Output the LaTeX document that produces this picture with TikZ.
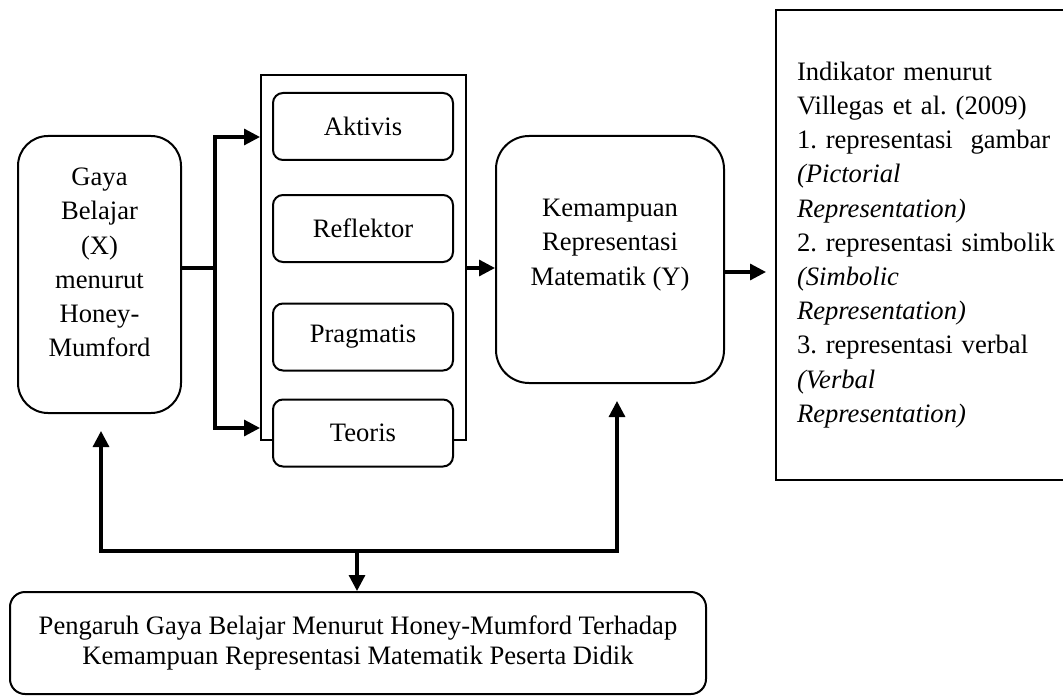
\documentclass[tikz,border=0pt]{standalone}
\usepackage{fontspec}
\setmainfont{Liberation Serif}
\usetikzlibrary{arrows.meta}
\frenchspacing

\begin{document}
\begin{tikzpicture}[x=5pt,y=-5pt,
  font=\fontsize{13.3pt}{17.1pt}\selectfont,
  bigbox/.style={draw,line width=1pt,rounded corners=15pt,align=center},
  typebox/.style={draw,line width=1pt,rounded corners=5pt,fill=white,minimum width=90pt,minimum height=33.5pt,inner sep=0pt},
  link/.style={line width=1.6pt},
  arr/.style={line width=1.6pt,-{Triangle[length=8pt,width=8pt]}},
  twoarr/.style={line width=1.6pt,{Triangle[length=8pt,width=8pt]}-{Triangle[length=8pt,width=8pt]}}]
\clip (0,0) rectangle (106.3,69.5);

\node[bigbox,minimum width=81.5pt,minimum height=138.5pt,
  label={[align=center,yshift=6pt]center:Gaya\\Belajar\\(X)\\menurut\\Honey-\\Mumford}] (gaya) at (9.95,27.45) {};

\node[draw,line width=1pt,minimum width=102.5pt,minimum height=182.5pt] (tipe) at (36.35,25.75) {};
\node[typebox] (aktivis) at (36.3,12.65) {Aktivis};
\node[typebox] (reflektor) at (36.3,22.85) {Reflektor};
\node[typebox] (pragmatis) at (36.3,33.7) {Pragmatis};
\node[typebox] (teoris) at (36.3,43.3) {Teoris};

\node[bigbox,rounded corners=16.5pt,minimum width=114pt,minimum height=123.5pt,
  label={[align=center,yshift=7.25pt]center:Kemampuan\\Representasi\\Matematik (Y)}] (kemampuan) at (61.0,25.95) {};

\node[draw,line width=1pt,text width=140pt,align=left,inner xsep=10.5pt,minimum height=235pt] (indikator) at (93.7,24.5)
  {Indikator menurut\\Villegas et al. (2009)\\1. representasi\ \ gambar\\\textit{(Pictorial}\\\textit{Representation)}\\2. representasi simbolik\\\textit{(Simbolic}\\\textit{Representation)}\\3. representasi verbal\\\textit{(Verbal}\\\textit{Representation)}};

\node[bigbox,rounded corners=7.5pt,minimum width=348pt,minimum height=51pt,font=\fontsize{13.3pt}{15pt}\selectfont] (pengaruh) at (35.8,64.3)
  {Pengaruh Gaya Belajar Menurut Honey-Mumford Terhadap\\Kemampuan Representasi Matematik Peserta Didik};

\coordinate (fork) at (21.5,26.8);
\coordinate (forktop) at (21.5,13.7);
\coordinate (forkbottom) at (21.5,42.8);
\coordinate (backleft) at (10.1,55.1);
\coordinate (backright) at (61.7,55.1);
\coordinate (backmid) at (35.7,55.1);

\draw[link] (gaya.east |- fork) -- (fork);
\draw[twoarr] (forktop -| tipe.west) -- (forktop) -- (forkbottom) -- (forkbottom -| tipe.west);
\draw[arr] (tipe.east |- fork) -- (kemampuan.west |- fork);
\draw[arr,shorten >=4.5pt] (kemampuan.east |- 0,27.2) -- (indikator.west |- 0,27.2);

\draw[twoarr,shorten <=8.5pt,shorten >=8.5pt] (backright |- kemampuan.south) -- (backright) -- (backleft) -- (backleft |- gaya.south);
\draw[arr] (backmid) -- (backmid |- pengaruh.north);

\end{tikzpicture}
\end{document}
